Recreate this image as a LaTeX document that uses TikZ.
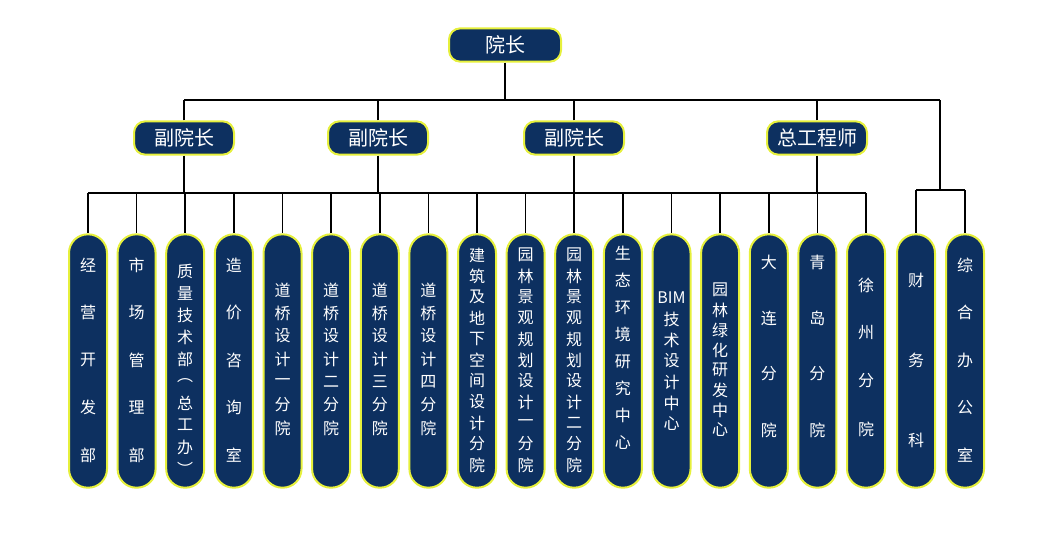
\documentclass[tikz,border=0pt]{standalone}
\usepackage{fontspec}
\setmainfont{Noto Sans CJK SC}
\definecolor{navy}{HTML}{0D3060}
\definecolor{rim}{HTML}{E6F03C}
\tikzset{
 head/.style={draw=rim,line width=1.5pt,fill=navy,text=white,rounded corners=8.5pt,minimum height=25pt,font=\fontsize{15}{15}\selectfont},
 colbox/.style={draw=rim,line width=1.5pt,fill=navy,rounded corners=14pt,minimum width=28.5pt,minimum height=190pt},
 ch/.style={text=white,font=\fontsize{12}{12}\selectfont,inner sep=0pt},
 ln/.style={line width=1.3pt}
}
\newcommand{\mycol}[6]{% name, x, center y, n, step, list
 \node[colbox] (#1) at (#2,361) {};
 \foreach \c [count=\i] in {#6} {
   \pgfmathsetmacro{\yy}{#3+(\i-(#4+1)/2)*#5}
   \node[ch] at (#2,\yy) {\c};
 }
}
\begin{document}
\begin{tikzpicture}[x=0.75pt,y=-0.75pt]
\useasboundingbox (0,0) rectangle (1044,535);
\node[head,minimum width=84pt] (top) at (505,45) {院长};
\node[head,minimum width=75pt] (d1) at (184,138) {副院长};
\node[head,minimum width=75pt] (d2) at (378,138) {副院长};
\node[head,minimum width=75pt] (d3) at (574,138) {副院长};
\node[head,minimum width=75pt] (d4) at (817,138) {总工程师};
\coordinate (hl) at (184,100); \coordinate (hr) at (940,100);
\coordinate (tm) at (505,100);
\draw[ln] (top.south) -- (tm);
\draw[ln] (hl) -- (hr);
\foreach \d in {d1,d2,d3,d4} \draw[ln] (\d.north) -- (\d.north |- hl);
\coordinate (bl) at (88,193); \coordinate (br) at (866,193);
\draw[ln] (bl) -- (br);
\foreach \d in {d1,d2,d3,d4} \draw[ln] (\d.south) -- (\d.south |- bl);
\coordinate (sl) at (916,190); \coordinate (sr) at (965,190);
\draw[ln] (hr) -- (940,190);
\draw[ln] (sl) -- (sr);
\mycol{c1}{88}{360}{5}{47.5}{经,营,开,发,部}
\mycol{c2}{136.6}{360}{5}{47.5}{市,场,管,理,部}
\mycol{c3}{185.2}{370}{10}{22}{质,量,技,术,部,︵,总,工,办,︶}
\mycol{c4}{233.9}{360}{5}{47.5}{造,价,咨,询,室}
\mycol{c5}{282.5}{359}{7}{23}{道,桥,设,计,一,分,院}
\mycol{c6}{331.1}{359}{7}{23}{道,桥,设,计,二,分,院}
\mycol{c7}{379.8}{359}{7}{23}{道,桥,设,计,三,分,院}
\mycol{c8}{428.4}{359}{7}{23}{道,桥,设,计,四,分,院}
\mycol{c9}{477}{360}{11}{21}{建,筑,及,地,下,空,间,设,计,分,院}
\mycol{c10}{525.6}{360}{11}{21}{园,林,景,观,规,划,设,计,一,分,院}
\mycol{c11}{574.2}{360}{11}{21}{园,林,景,观,规,划,设,计,二,分,院}
\mycol{c12}{622.9}{348}{8}{27}{生,态,环,境,研,究,中,心}
\mycol{c13}{671.5}{361}{7}{21}{BIM,技,术,设,计,中,心}
\mycol{c14}{720.1}{360}{8}{20}{园,林,绿,化,研,发,中,心}
\mycol{c15}{768.8}{346}{4}{56}{大,连,分,院}
\mycol{c16}{817.4}{346}{4}{56}{青,岛,分,院}
\mycol{c17}{866}{357}{4}{48}{徐,州,分,院}
\mycol{c18}{916}{360}{3}{80}{财,务,科}
\mycol{c19}{965}{360}{5}{47.5}{综,合,办,公,室}
\foreach \i in {1,...,17} \draw[ln] (c\i.north |- bl) -- (c\i.north);
\draw[ln] (c18.north |- sl) -- (c18.north);
\draw[ln] (c19.north |- sl) -- (c19.north);
\end{tikzpicture}
\end{document}
